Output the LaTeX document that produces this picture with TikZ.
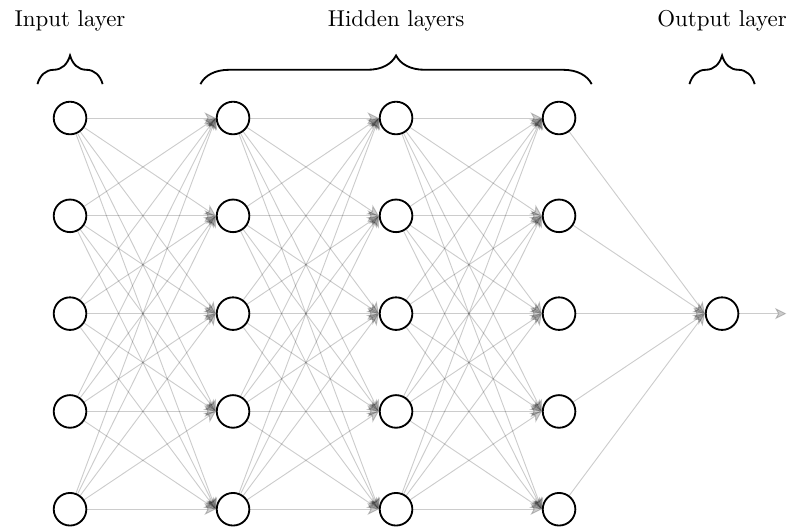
\documentclass[tikz,border=0pt]{standalone}
\usepackage{amsmath}
\usetikzlibrary{decorations.pathreplacing}
\usetikzlibrary{arrows.meta}
\usetikzlibrary{positioning}

\tikzset{neuron/.style={circle, draw, thick, fill=white, minimum size=.5cm, inner sep=0pt},
  conn/.style={-{Stealth[length=5pt,width=5pt,inset=1.4pt]}, draw=black, opacity=.2},
  layerbrace/.style={thick, decorate, decoration={brace, amplitude=12.5pt}}}

\begin{document}
\begin{tikzpicture}
  \useasboundingbox (0,0) rectangle (12.07,-8.08);

  % neurons
  \foreach \r in {1,...,5}{
    \node[neuron] (n-1-\r) at (1.074, -.31-1.5*\r) {};
    \node[neuron] (n-2-\r) at (3.574, -.31-1.5*\r) {};
    \node[neuron] (n-3-\r) at (6.074, -.31-1.5*\r) {};
    \node[neuron] (n-4-\r) at (8.574, -.31-1.5*\r) {};
  }
  \node[neuron] (n-5-3) at (11.074, -4.81) {};
  \coordinate (out) at (12.06, -4.81);

  % connections
  \foreach \l [evaluate=\l as \k using int(\l+1)] in {1,2,3}{
    \foreach \r in {1,...,5}{
      \foreach \s in {1,...,5}{
        \draw[conn] (n-\l-\r) -- (n-\k-\s.west);
      }
    }
  }
  \foreach \r in {1,...,5}{
    \draw[conn] (n-4-\r) -- (n-5-3.west);
  }
  \draw[conn] (n-5-3) -- (out);

  % braces and labels
  \draw[layerbrace] (0.574,-1.29) -- (1.574,-1.29);
  \draw[layerbrace] (3.074,-1.29) -- (9.074,-1.29);
  \draw[layerbrace] (10.574,-1.29) -- (11.574,-1.29);
  \node (lbl-in) at (1.074,-.32) {Input layer};
  \node (lbl-hid) at (6.074,-.32) {Hidden layers};
  \node (lbl-out) at (11.074,-.32) {Output layer};
\end{tikzpicture}
\end{document}
